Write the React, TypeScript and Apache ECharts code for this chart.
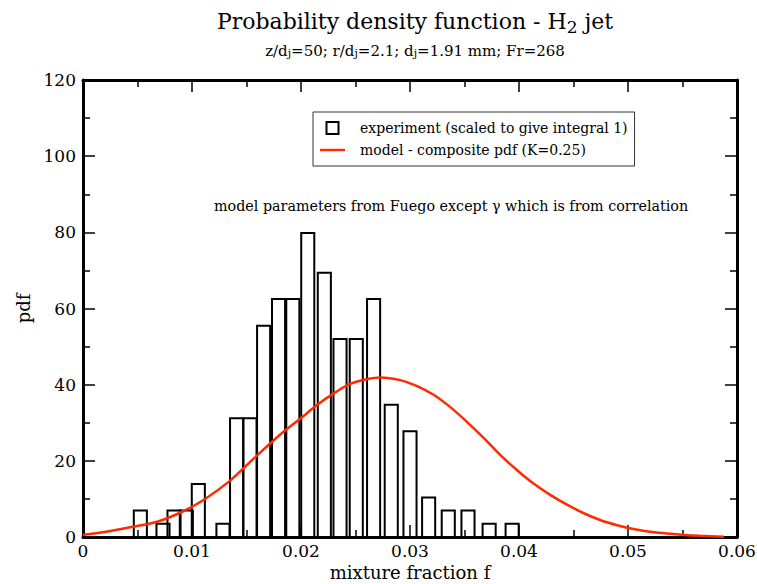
import React, { useEffect, useRef } from 'react';
import * as echarts from 'echarts';

// Histogram of the experiment: bin centres (mixture fraction) and pdf values
const binCenters = [
  0.00526, 0.00734, 0.00835, 0.00948, 0.01058, 0.01284, 0.01409, 0.01532,
  0.01657, 0.01794, 0.01925, 0.02062, 0.02214, 0.02358, 0.02507, 0.02666,
  0.02828, 0.03, 0.03171, 0.03351, 0.03532, 0.03726, 0.03937,
];
const binValues = [
  6.94, 3.47, 6.94, 6.94, 13.9, 3.47, 31.2, 31.2,
  55.5, 62.5, 62.5, 79.8, 69.4, 52.0, 52.0, 62.5,
  34.7, 27.8, 10.4, 6.94, 6.94, 3.47, 3.47,
];
const BIN_HALF_WIDTH = 0.0006;

// Model composite pdf (K=0.25)
const curveF = [
  0, 0.002, 0.0046, 0.0068, 0.009, 0.0111, 0.0135, 0.0157, 0.0181, 0.0199,
  0.0215, 0.023, 0.0245, 0.0261, 0.0273, 0.0291, 0.0306, 0.0322, 0.0337,
  0.0352, 0.0368, 0.0383, 0.0398, 0.0413, 0.0429, 0.0444, 0.0459, 0.0475,
  0.049, 0.0505, 0.052, 0.0536, 0.0551, 0.0566, 0.0588,
];
const curvePdf = [
  0.6, 1.3, 2.7, 4.0, 6.5, 9.8, 14.8, 20.7, 26.9, 31.0,
  34.7, 37.7, 40.2, 41.5, 41.9, 41.2, 39.7, 37.3, 34.1,
  30.3, 25.9, 21.5, 17.6, 14.1, 11.0, 8.5, 6.3, 4.4,
  3.1, 2.1, 1.4, 0.95, 0.55, 0.3, 0.08,
];

const EXP_NAME = 'experiment (scaled to give integral 1)';
const MODEL_NAME = 'model - composite pdf (K=0.25)';
const FONT = 'DejaVu Serif';
const RED = '#ff2a00';

export default function App() {
  const ref = useRef<HTMLDivElement>(null);

  useEffect(() => {
    if (!ref.current) return;
    const chart = echarts.init(ref.current, undefined, { renderer: 'svg' });

    const axisCommon = {
      min: 0,
      axisLine: { show: true, onZero: false, lineStyle: { color: '#000', width: 3 } },
      axisTick: { show: true, inside: true, length: 12, lineStyle: { color: '#000', width: 1.5 } },
      minorTick: { show: true, splitNumber: 2, length: 7, lineStyle: { color: '#000', width: 1.5 } },
      splitLine: { show: false },
    };

    const option: any = {
      animation: false,
      backgroundColor: '#fff',
      title: [
        {
          text: 'Probability density function - H{s|2} jet',
          left: 410,
          top: 2,
          textAlign: 'center',
          textStyle: {
            fontFamily: FONT, fontSize: 22, fontWeight: 'normal', color: '#000', lineHeight: 28,
            rich: { s: { fontFamily: FONT, fontSize: 17, lineHeight: 14, verticalAlign: 'bottom', color: '#000' } },
          },
        },
        {
          text: 'z/d{j|j}=50; r/d{j|j}=2.1; d{j|j}=1.91 mm; Fr=268',
          left: 410,
          top: 37,
          textAlign: 'center',
          textStyle: {
            fontFamily: FONT, fontSize: 15, fontWeight: 'normal', color: '#000', lineHeight: 17,
            rich: { j: { fontFamily: FONT, fontSize: 11, lineHeight: 7, verticalAlign: 'bottom', color: '#000' } },
          },
        },
      ],
      legend: {
        orient: 'vertical',
        left: 313,
        top: 112,
        padding: [8, 7, 8, 7],
        itemGap: 6,
        itemWidth: 25,
        itemHeight: 12,
        borderColor: '#333',
        borderWidth: 1,
        backgroundColor: '#fff',
        selectedMode: false,
        textStyle: { fontFamily: FONT, fontSize: 14, color: '#000', lineHeight: 16, padding: [0, 0, 0, 10] },
        data: [
          {
            name: EXP_NAME,
            icon: 'path://M0,0H10V10H0Z',
            itemStyle: { color: 'rgba(0,0,0,0)', borderColor: '#000', borderWidth: 2 },
          },
          {
            name: MODEL_NAME,
            icon: 'path://M0,0H25V2.4H0Z',
            itemStyle: { color: RED, borderWidth: 0 },
          },
        ],
      },
      grid: { left: 83, right: 20, top: 80, bottom: 47, containLabel: false, outerBoundsMode: 'none' },
      xAxis: [
        {
          ...axisCommon,
          type: 'value',
          position: 'bottom',
          max: 0.06,
          interval: 0.01,
          name: 'mixture fraction f',
          nameLocation: 'middle',
          nameGap: 26,
          nameTextStyle: { fontFamily: FONT, fontSize: 18, color: '#000' },
          axisLabel: {
            show: true, margin: 5, fontFamily: FONT, fontSize: 17, color: '#000',
            formatter: (v: number) => (v === 0 ? '0' : v.toFixed(2)),
          },
        },
        {
          ...axisCommon,
          type: 'value',
          position: 'top',
          max: 0.06,
          interval: 0.01,
          axisLabel: { show: false },
        },
      ],
      yAxis: [
        {
          ...axisCommon,
          type: 'value',
          position: 'left',
          max: 120,
          interval: 20,
          name: 'pdf',
          nameLocation: 'middle',
          nameGap: 43,
          nameTextStyle: { fontFamily: FONT, fontSize: 18, color: '#000' },
          axisLabel: { show: true, margin: 7, fontFamily: FONT, fontSize: 17, color: '#000' },
        },
        {
          ...axisCommon,
          type: 'value',
          position: 'right',
          max: 120,
          interval: 20,
          axisLabel: { show: false },
        },
      ],
      graphic: [
        {
          type: 'text',
          left: 214,
          top: 199,
          style: {
            text: 'model parameters from Fuego except \u03b3 which is from correlation',
            fontFamily: FONT,
            fontSize: 14.3,
            fill: '#000',
          },
        },
      ],
      series: [
        {
          name: EXP_NAME,
          type: 'custom',
          xAxisIndex: 0,
          yAxisIndex: 0,
          data: binCenters.map((c, i) => [c, binValues[i]]),
          renderItem: (_params: any, api: any) => {
            const c = api.value(0);
            const v = api.value(1);
            const p0 = api.coord([c - BIN_HALF_WIDTH, v]);
            const p1 = api.coord([c + BIN_HALF_WIDTH, 0]);
            return {
              type: 'rect',
              shape: { x: p0[0], y: p0[1], width: p1[0] - p0[0], height: p1[1] - p0[1] },
              style: { fill: 'none', stroke: '#000', lineWidth: 2 },
            };
          },
          itemStyle: { color: 'rgba(0,0,0,0)', borderColor: '#000', borderWidth: 2 },
          z: 2,
        },
        {
          name: MODEL_NAME,
          type: 'line',
          xAxisIndex: 0,
          yAxisIndex: 0,
          data: curveF.map((f, i) => [f, curvePdf[i]]),
          showSymbol: false,
          symbol: 'none',
          smooth: 0.3,
          lineStyle: { color: RED, width: 2.5 },
          itemStyle: { color: RED },
          z: 3,
        },
      ],
    };

    chart.setOption(option);
    return () => chart.dispose();
  }, []);

  return (
    <div
      ref={ref}
      style={{ position: 'fixed', left: 0, top: 0, width: 757, height: 584, background: '#fff' }}
    />
  );
}
